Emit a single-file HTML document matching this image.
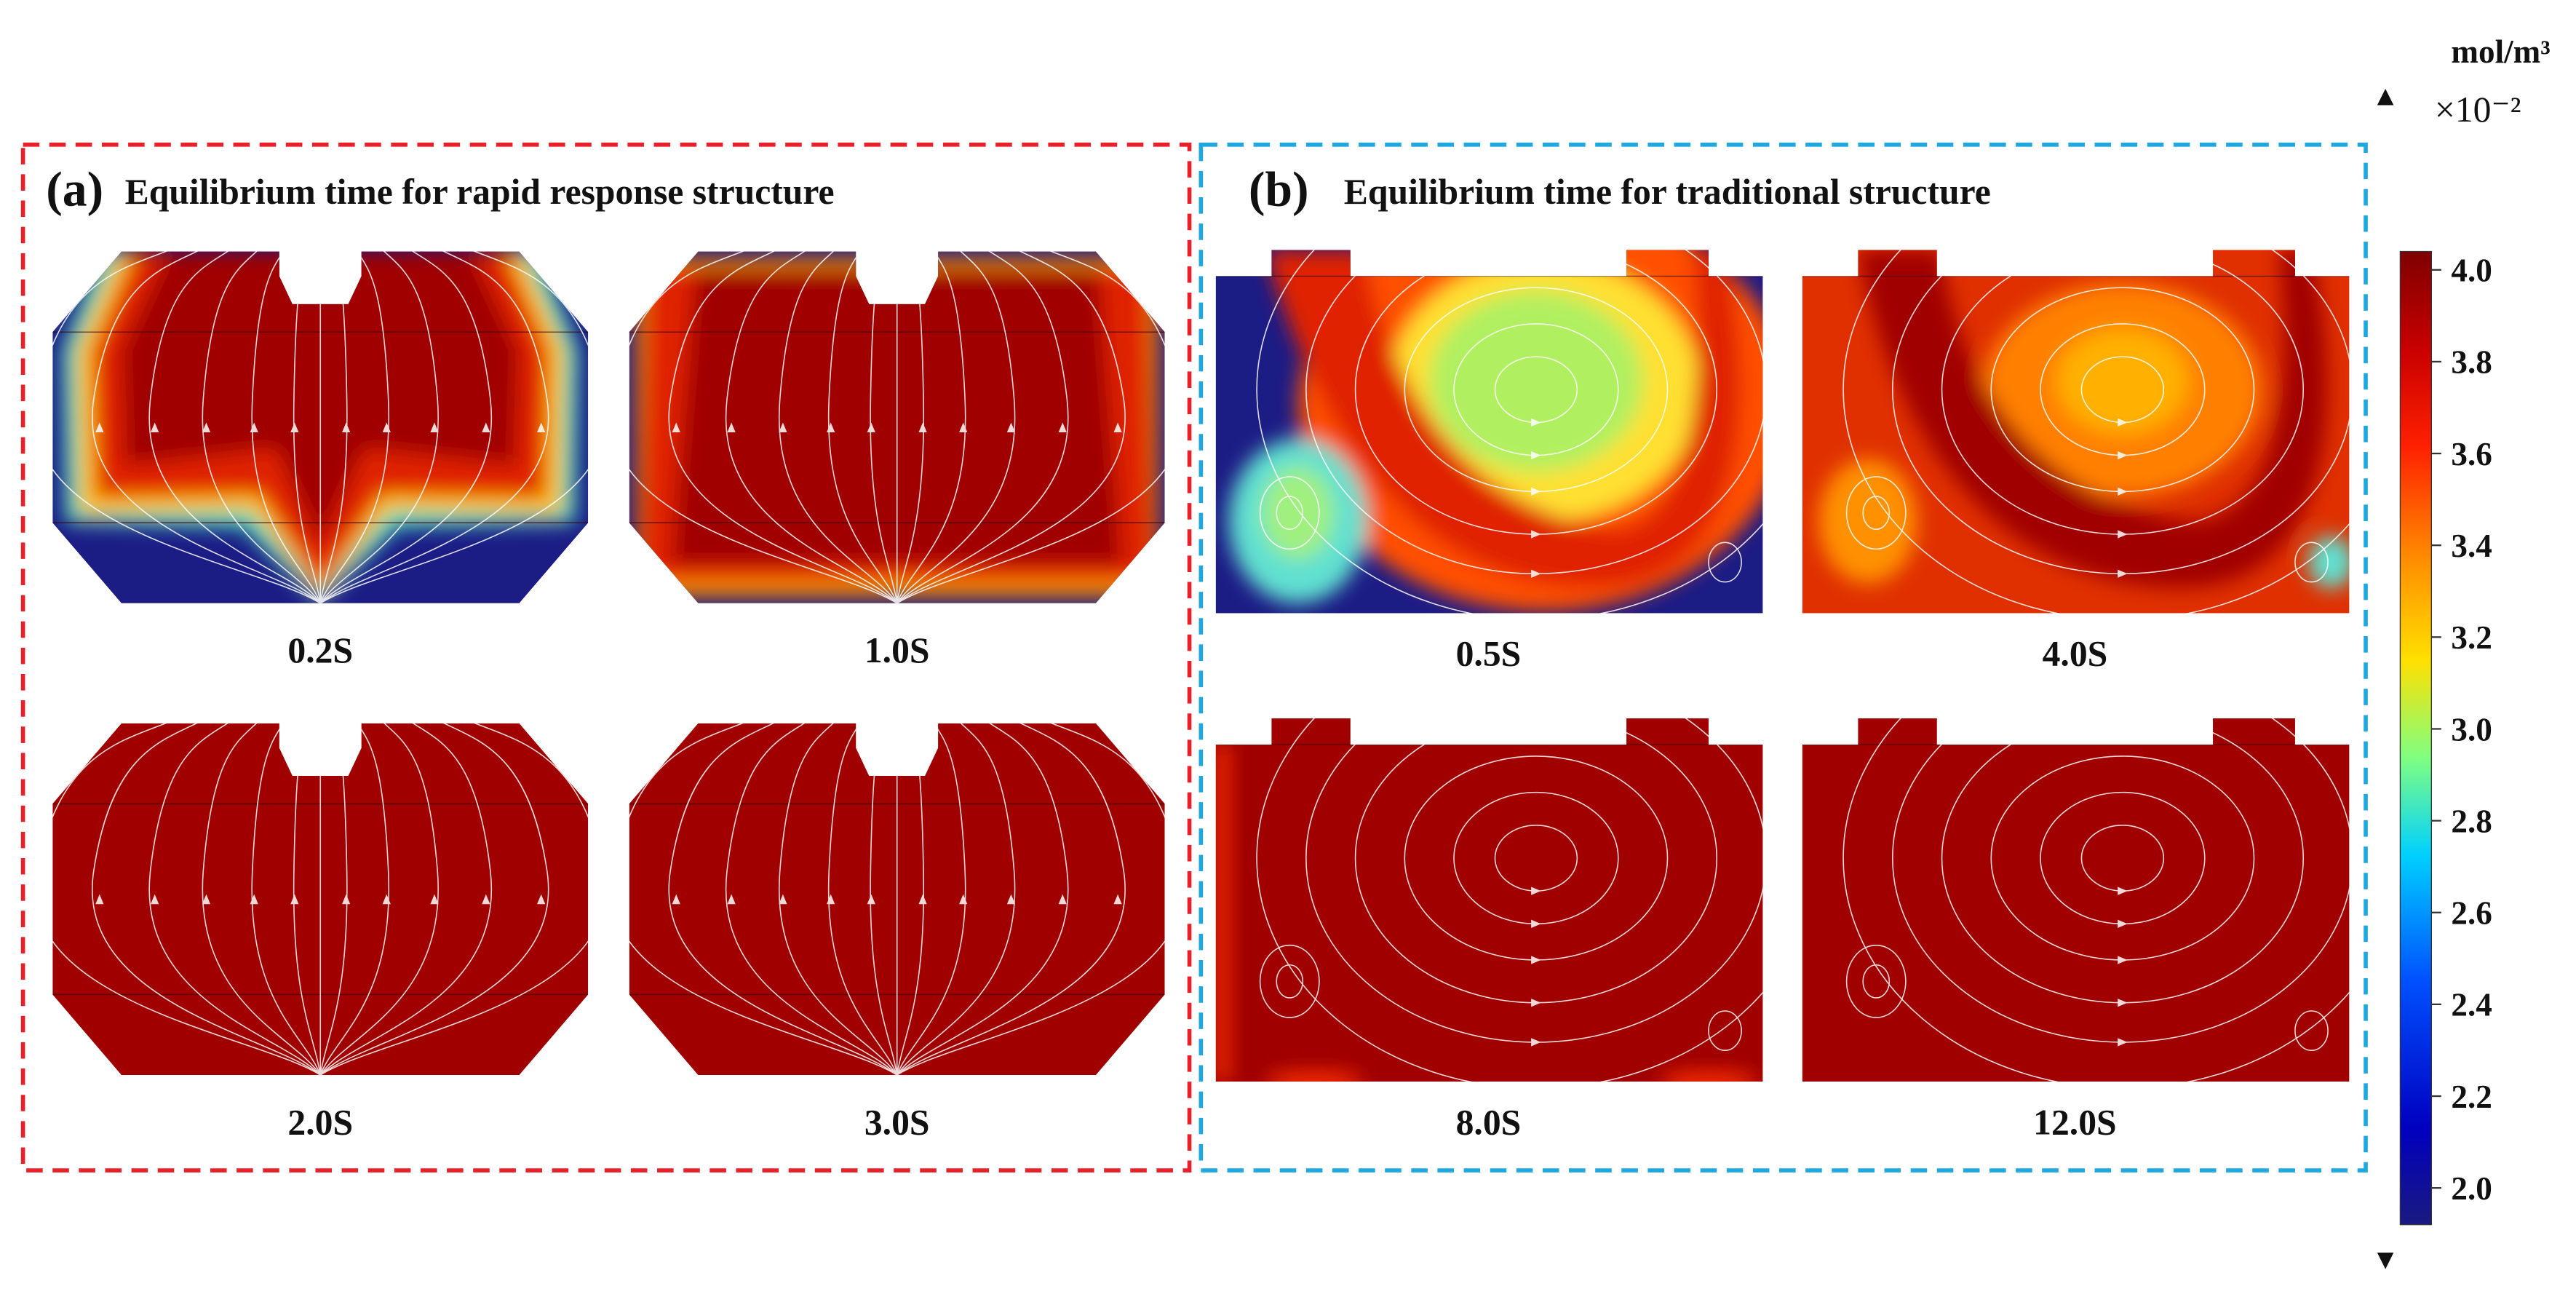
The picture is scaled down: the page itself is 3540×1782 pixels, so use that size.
<!DOCTYPE html>
<html><head><meta charset="utf-8"><style>
html,body{margin:0;padding:0;background:#fff;}
svg{display:block;}
.lbl{font-family:"Liberation Serif",serif;font-weight:bold;fill:#111;}
</style></head><body>
<svg id="fig" width="3540" height="1782" viewBox="0 0 1568 789" preserveAspectRatio="none" xmlns="http://www.w3.org/2000/svg">
<defs>
<filter id="b6" x="-50%" y="-50%" width="200%" height="200%"><feGaussianBlur stdDeviation="6"/></filter>
<linearGradient id="jet" x1="0" y1="0" x2="0" y2="1">
<stop offset="0" stop-color="#7f0000"/><stop offset="0.1" stop-color="#c80000"/><stop offset="0.2" stop-color="#ff2000"/>
<stop offset="0.32" stop-color="#ff9000"/><stop offset="0.42" stop-color="#ffe000"/><stop offset="0.52" stop-color="#80ff80"/>
<stop offset="0.62" stop-color="#00d0ff"/><stop offset="0.75" stop-color="#0050ff"/><stop offset="0.9" stop-color="#0000c0"/><stop offset="1" stop-color="#1a1a80"/>
</linearGradient>
<clipPath id="clipA"><path d="M42,0 L138,0 L138,15 L146,32 L180,32 L188,15 L188,0 L284,0 L326,49 L326,165 L284,214 L42,214 L0,165 L0,49 Z"/></clipPath>
<clipPath id="clipB"><path d="M34,0 L82,0 L82,16 L250,16 L250,0 L300,0 L300,16 L333,16 L333,221 L0,221 L0,16 L34,16 Z"/></clipPath>
</defs>

<rect x="14" y="88" width="710" height="624" fill="none" stroke="#e8202a" stroke-width="2.5" stroke-dasharray="10,6"/>
<rect x="731" y="88" width="709" height="624" fill="none" stroke="#1fa8e0" stroke-width="2.5" stroke-dasharray="10,6"/>
<text class="lbl" x="28" y="125" font-size="30">(a)</text>
<text class="lbl" x="76" y="124" font-size="22">Equilibrium time for rapid response structure</text>
<text class="lbl" x="760" y="125" font-size="30">(b)</text>
<text class="lbl" x="818" y="124" font-size="22">Equilibrium time for traditional structure</text>

<g id="panels"></g>

<g id="cbar"></g>
<text class="lbl" x="1492" y="38" font-size="20">mol/m³</text>
<text class="lbl" x="1482" y="74" font-size="22" style="font-weight:normal">×10⁻²</text>
<path d="M1447,64 L1457,64 L1452,54 Z" fill="#111"/>
<path d="M1447,762 L1457,762 L1452,772 Z" fill="#111"/>
</svg>
<script>
const tickValues=[4.0,3.8,3.6,3.4,3.2,3.0,2.8,2.6,2.4,2.2,2.0];
const tickLabels=["4.0","3.8","3.6","3.4","3.2","3.0","2.8","2.6","2.4","2.2","2.0"];
const panelTimesA=["0.2S","1.0S","2.0S","3.0S"];
const panelTimesB=["0.5S","4.0S","8.0S","12.0S"];
const NS="http://www.w3.org/2000/svg";
function mk(tag,attrs,parent){const e=document.createElementNS(NS,tag);for(const k in attrs)e.setAttribute(k,attrs[k]);parent.appendChild(e);return e;}
const cb=document.getElementById('cbar');
const vMax=4.04,vMin=1.92,cTop=153,cBot=745;
function yv(v){return cTop+(vMax-v)/(vMax-vMin)*(cBot-cTop);}
const cr=mk('rect',{x:1461,y:cTop,width:19,height:cBot-cTop,fill:'url(#jet)',stroke:'#333','stroke-width':0.6},cb);


tickValues.forEach((v,i)=>{
  const y=yv(v);
  const t=mk('line',{x1:1480,x2:1486,y1:y,y2:y,stroke:'#333','stroke-width':1},cb);
  
  
  const l=mk('text',{x:1492,y:y+7,'font-size':20,'class':'lbl'},cb);
  l.textContent=tickLabels[i];
  
  
});
const P=document.getElementById('panels');
const DR='#a00000',RD='#e02000',BL='#1c1c85';
function panelA(x,y,idx){
  const g=mk('g',{transform:'translate('+x+','+y+')'},P);
  
  
  const c=mk('g',{'clip-path':'url(#clipA)'},g);
  if(idx===0){
    mk('rect',{x:0,y:0,width:326,height:214,fill:BL},c);
    const f=mk('g',{filter:'url(#b6)'},c);
    mk('path',{d:'M30,0 L296,0 L320,60 L318,165 L210,168 L163,214 L116,168 L8,165 L6,60 Z',fill:'#40e0c0'},f);
    mk('path',{d:'M40,0 L286,0 L312,60 L310,160 L205,158 L163,210 L121,158 L16,160 L14,60 Z',fill:'#ffc000'},f);
    mk('path',{d:'M50,0 L276,0 L302,60 L300,150 L200,148 L163,205 L126,148 L26,150 L24,60 Z',fill:RD},f);
    mk('path',{d:'M70,0 L256,0 L284,60 L282,130 L190,120 L163,180 L136,120 L44,130 L42,60 Z',fill:DR},f);
  } else if(idx===1){
    mk('rect',{x:0,y:0,width:326,height:214,fill:BL},c);
    const f=mk('g',{filter:'url(#b6)'},c);
    mk('path',{d:'M4,4 L322,4 L322,210 L4,210 Z',fill:'#ff9000'},f);
    mk('path',{d:'M10,10 L316,10 L320,200 L6,200 Z',fill:RD},f);
    mk('path',{d:'M40,10 L286,10 L300,190 L26,190 Z',fill:DR},f);
  } else {
    mk('rect',{x:0,y:0,width:326,height:214,fill:DR},c);
  }
  mk('line',{x1:0,x2:326,y1:49,y2:49,stroke:'#300','stroke-width':0.7,opacity:0.6},c);
  mk('line',{x1:0,x2:326,y1:165,y2:165,stroke:'#300','stroke-width':0.7,opacity:0.6},c);
  const s=mk('g',{fill:'none',stroke:'#fff','stroke-width':0.7,opacity:0.85},c);
  [-150,-120,-90,-62,-36,-14,14,36,62,90,120,150].forEach(k=>{
    mk('path',{d:'M163,214 C'+(163+k*0.25)+',190 '+(163+k*1.25)+',170 '+(163+k*1.15)+',90 S'+(163+k*0.75)+',10 '+(163+k*0.55)+',-5'},s);
    mk('path',{d:'M'+(163+k*1.12-2.5)+',110 l2.5,-6 l2.5,6 z',fill:'#fff',stroke:'none'},s);
  });
  mk('line',{x1:163,x2:163,y1:32,y2:214},s);
  const t=mk('text',{x:163,y:250,'font-size':22,'class':'lbl','text-anchor':'middle'},g);
  t.textContent=panelTimesA[idx];
  
  
}
function panelB(x,y,idx){
  const g=mk('g',{transform:'translate('+x+','+y+')'},P);
  
  
  const c=mk('g',{'clip-path':'url(#clipB)'},g);
  if(idx===0){
    mk('rect',{x:0,y:0,width:333,height:221,fill:BL},c);
    const f=mk('g',{filter:'url(#b6)'},c);
    mk('ellipse',{cx:200,cy:95,rx:150,ry:125,fill:'#ff5000'},f);
    mk('ellipse',{cx:200,cy:85,rx:95,ry:80,fill:'#ffe030'},f);
    mk('ellipse',{cx:195,cy:80,rx:65,ry:55,fill:'#b0f060'},f);
    mk('path',{d:'M30,0 L90,0 C110,110 170,160 240,170 C290,170 300,80 290,0 L310,0 C335,120 310,200 240,205 C140,210 70,140 30,0 Z',fill:'#e02000'},f);
    mk('ellipse',{cx:50,cy:165,rx:42,ry:50,fill:'#60e0d0'},f);
    mk('ellipse',{cx:50,cy:160,rx:22,ry:28,fill:'#a0f080'},f);
  } else if(idx===1){
    mk('rect',{x:0,y:0,width:333,height:221,fill:'#e03000'},c);
    const f=mk('g',{filter:'url(#b6)'},c);
    mk('ellipse',{cx:195,cy:85,rx:85,ry:65,fill:'#ff8000'},f);
    mk('ellipse',{cx:195,cy:80,rx:40,ry:32,fill:'#ffb000'},f);
    mk('path',{d:'M34,0 L84,0 C100,110 170,160 240,165 C290,160 300,80 290,0 L310,0 C335,120 310,200 240,205 C140,210 60,140 34,0 Z',fill:DR},f);
    mk('ellipse',{cx:40,cy:165,rx:30,ry:38,fill:'#ff9000'},f);
    mk('ellipse',{cx:322,cy:190,rx:14,ry:16,fill:'#60e0d0'},f);
  } else {
    mk('rect',{x:0,y:0,width:333,height:221,fill:DR},c);
    if(idx===2){
      const f=mk('g',{filter:'url(#b6)'},c);
      mk('rect',{x:0,y:16,width:8,height:205,fill:'#ff3000'},f);
      mk('ellipse',{cx:60,cy:221,rx:30,ry:6,fill:'#ff3000'},f);
      mk('ellipse',{cx:300,cy:221,rx:30,ry:6,fill:'#ff3000'},f);
    }
  }
  mk('line',{x1:0,x2:333,y1:16,y2:16,stroke:'#300','stroke-width':0.6,opacity:0.6},c);
  const s=mk('g',{fill:'none',stroke:'#fff','stroke-width':0.7,opacity:0.85},c);
  [[25,20],[50,40],[80,62],[110,88],[140,112],[170,140]].forEach(function(r){
    mk('ellipse',{cx:195,cy:85,rx:r[0],ry:r[1]},s);
    mk('path',{d:'M'+(192)+','+(85+r[1]-2.5)+' l6,2.5 l-6,2.5 z',fill:'#fff',stroke:'none'},s);
  });
  mk('ellipse',{cx:45,cy:160,rx:18,ry:22},s);
  mk('ellipse',{cx:45,cy:160,rx:8,ry:10},s);
  mk('ellipse',{cx:310,cy:190,rx:10,ry:12},s);
  const t=mk('text',{x:166,y:253,'font-size':22,'class':'lbl','text-anchor':'middle'},g);
  t.textContent=panelTimesB[idx];
  
  
}
panelA(32,153,0);panelA(383,153,1);panelA(32,440,2);panelA(383,440,3);
panelB(740,152,0);panelB(1097,152,1);panelB(740,437,2);panelB(1097,437,3);
</script>
</body></html>
